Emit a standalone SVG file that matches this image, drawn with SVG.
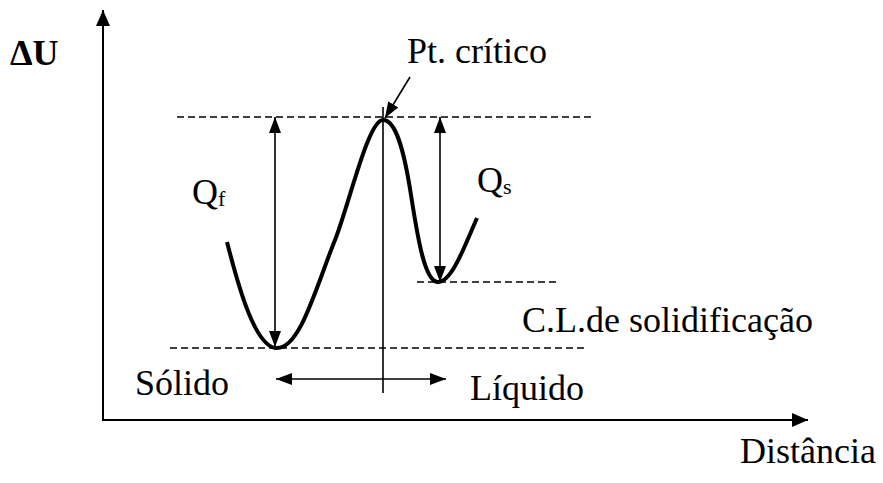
<svg xmlns="http://www.w3.org/2000/svg" width="883" height="483" viewBox="0 0 883 483">
<style>
.t{font-family:'Liberation Serif','Times New Roman','DejaVu Serif',serif;font-size:36px;fill:#000}
.ax{stroke:#000;stroke-width:2;fill:none}
.th{stroke:#000;stroke-width:1.6;fill:none}
.dash{stroke:#000;stroke-width:1.6;stroke-dasharray:7 4;fill:none}
.curve{stroke:#000;stroke-width:4;fill:none}
</style>
<defs>
<marker id="big" viewBox="0 0 16 14" refX="16" refY="7" markerWidth="16" markerHeight="14" markerUnits="userSpaceOnUse" orient="auto-start-reverse"><path d="M0,0 L16,7 L0,14 Z" fill="#000"/></marker>
<marker id="sm" viewBox="0 0 16 12" refX="16" refY="6" markerWidth="16" markerHeight="12" markerUnits="userSpaceOnUse" orient="auto-start-reverse"><path d="M0,0 L16,6 L0,12 Z" fill="#000"/></marker>
</defs>
<g id="axes">
<line class="ax" x1="103" y1="420" x2="103" y2="10" marker-end="url(#big)"/>
<line class="ax" x1="102" y1="420" x2="808" y2="420" marker-end="url(#big)"/>
</g>
<g id="connectors">
<line class="dash" x1="177" y1="117" x2="592" y2="117"/>
<line class="dash" x1="170" y1="348" x2="585" y2="348"/>
<line class="dash" x1="417" y1="282" x2="560" y2="282"/>
<line class="th" x1="383" y1="107" x2="383" y2="393"/>
<line class="th" x1="276" y1="379" x2="446" y2="379" marker-start="url(#sm)" marker-end="url(#sm)"/>
<line class="th" x1="275" y1="117" x2="275" y2="347" marker-start="url(#sm)" marker-end="url(#sm)"/>
<line class="th" x1="440" y1="117" x2="440" y2="282" marker-start="url(#sm)" marker-end="url(#sm)"/>
<line class="th" x1="410" y1="77" x2="385" y2="118" marker-end="url(#sm)"/>
</g>
<g id="curve">
<path class="curve" d="M227,242 C238,285 255,348 277,348 C300,348 315,290 335,240 C349,205 368,120 383,120 C396,120 404,150 411,195 C418,240 425,282 438,282 C452,282 465,245 477,218"/>
</g>
<g id="labels" font-family="'Liberation Serif','Times New Roman','DejaVu Serif',serif" font-size="36">
<text class="t" x="10" y="65" font-weight="bold">ΔU</text>
<text class="t" x="407" y="63">Pt. crítico</text>
<text class="t" x="192" y="204">Q<tspan font-size="22" dy="2">f</tspan></text>
<text class="t" x="477" y="192">Q<tspan font-size="22" dy="2">s</tspan></text>
<text class="t" x="522" y="332">C.L.de solidificação</text>
<text class="t" x="135" y="395">Sólido</text>
<text class="t" x="470" y="400">Líquido</text>
<text class="t" x="740" y="463">Distância</text>
</g>
</svg>
